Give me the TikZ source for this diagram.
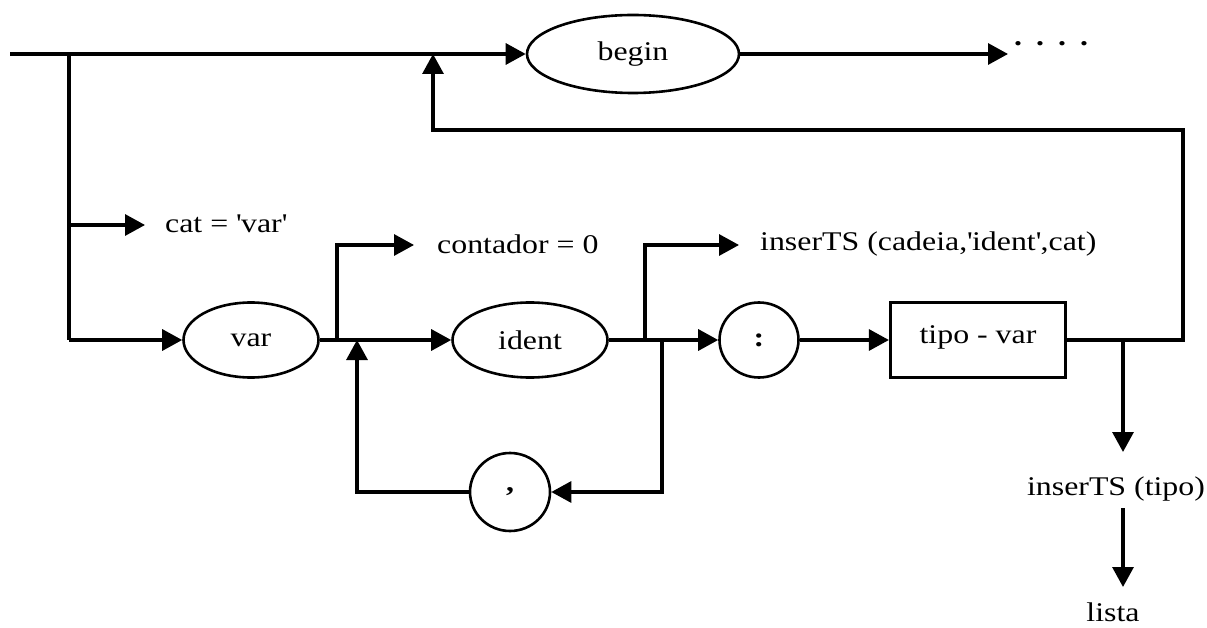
\documentclass[tikz,border=0pt]{standalone}
\usepackage{fontspec}
\setmainfont{Liberation Serif}[FakeStretch=1.18]
\usetikzlibrary{arrows.meta,shapes.geometric}
\begin{document}
\begin{tikzpicture}[x=1pt,y=-1pt,
  conn/.style={line width=3.2pt},
  arr/.style={conn,-{Triangle[length=20pt,width=21pt]}},
  oval/.style={draw,ellipse,line width=2.6pt,inner sep=0pt,font=\fontsize{27}{31}\selectfont},
  boxnode/.style={draw,rectangle,line width=3.2pt,inner sep=0pt,font=\fontsize{27}{31}\selectfont},
  lbl/.style={inner sep=0pt,font=\fontsize{27}{31}\selectfont},
]
\useasboundingbox (0,0) rectangle (1207,628);
% nodes
\node[oval,minimum width=212pt,minimum height=78pt] (begin) at (633,54) {begin};
\node[oval,minimum width=135pt,minimum height=75pt] (var) at (251,340) {var};
\node[oval,minimum width=155pt,minimum height=75pt] (ident) at (530,340) {ident};
\node[oval,minimum width=79pt,minimum height=75pt] (colon) at (759,340) {\bfseries :};
\node[oval,minimum width=80pt,minimum height=78pt] (comma) at (510,492) {\bfseries ,};
\node[boxnode,minimum width=175pt,minimum height=75pt] (tipo) at (978,340) {\raisebox{10pt}{tipo - var}};
\node[lbl,anchor=west] (cat) at (165,224) {cat = \textquotesingle var\textquotesingle};
\node[lbl,anchor=west] (cont) at (437,244) {contador = 0};
\node[lbl,anchor=west] (ins1) at (760,244) {inserTS (cadeia,\textquotesingle ident\textquotesingle,cat)};
\node[lbl] (ins2) at (1116,489) {inserTS (tipo)};
\node[lbl] (lista) at (1113,612) {lista};
\node[lbl,anchor=west] (dots) at (1014,44) {\bfseries .\hspace{14pt}.\hspace{14pt}.\hspace{14pt}.};
% coordinates
\coordinate (start) at (10,54);
\coordinate (jl) at (69,54);
\coordinate (jcat) at (69,225);
\coordinate (jvar) at (69,340);
\coordinate (dend) at (1008,54);
\coordinate (j1) at (337,340);
\coordinate (j1u) at (337,245);
\coordinate (lp) at (357,340);
\coordinate (lpd) at (357,492);
\coordinate (j2) at (645,340);
\coordinate (j2u) at (645,245);
\coordinate (j3) at (662,340);
\coordinate (j3d) at (662,492);
\coordinate (fbr) at (1183,340);
\coordinate (fbru) at (1183,130);
\coordinate (fbl) at (433,130);
\coordinate (fbt) at (433,54);
\coordinate (j5) at (1123,340);
\coordinate (a1) at (1123,452);
\coordinate (a2s) at (1123,508);
\coordinate (a2) at (1123,587);
% connectors
\draw[arr] (start) -- (begin.west);
\draw[arr] (begin.east) -- (dend);
\draw[conn] (jl) -- (jvar);
\draw[arr] (jvar) -- (var.west);
\draw[arr,shorten >=20pt] (jcat) -- (cat.west |- jcat);
\draw[arr] (var.east) -- (ident.west);
\draw[arr,shorten >=23pt] (j1) -- (j1u) -- (cont.west |- j1u);
\draw[arr] (ident.east) -- (colon.west);
\draw[arr,shorten >=21pt] (j2) -- (j2u) -- (ins1.west |- j2u);
\draw[arr] (j3) -- (j3d) -- (comma.east);
\draw[arr] (comma.west) -- (lpd) -- (lp);
\draw[arr] (colon.east) -- (tipo.west);
\draw[arr] (tipo.east) -- (fbr) -- (fbru) -- (fbl) -- (fbt);
\draw[arr] (j5) -- (a1);
\draw[arr] (a2s) -- (a2);
\end{tikzpicture}
\end{document}
